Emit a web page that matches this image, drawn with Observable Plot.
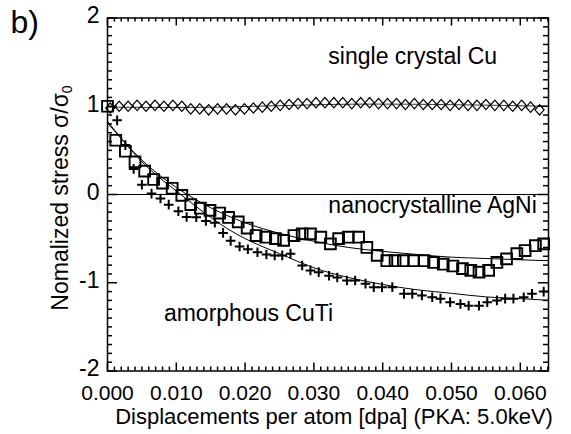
<!DOCTYPE html>
<html><head><meta charset="utf-8">
<script src="https://cdn.jsdelivr.net/npm/d3@7"></script>
<script src="https://cdn.jsdelivr.net/npm/@observablehq/plot@0.6"></script>
<style>
html,body{margin:0;padding:0;background:#fff;}
#chart{width:571px;height:434px;}
</style></head><body><div id="chart"></div>
<script>
// ---- data ----
const cuX = [0.0004,0.0017,0.0030,0.0043,0.0056,0.0069,0.0082,0.0095,0.0108,0.0121,0.0134,0.0147,0.0160,0.0173,0.0186,0.0199,0.0212,0.0225,0.0238,0.0251,0.0264,0.0277,0.0290,0.0303,0.0316,0.0329,0.0342,0.0355,0.0368,0.0381,0.0394,0.0407,0.0420,0.0433,0.0446,0.0459,0.0472,0.0485,0.0498,0.0511,0.0524,0.0537,0.0550,0.0563,0.0576,0.0589,0.0602,0.0615,0.0628];
const cuY = [0.98,1.00,1.00,1.01,1.00,1.01,1.00,1.01,1.00,0.97,0.97,0.96,0.97,0.97,0.96,0.97,0.98,0.99,1.00,1.01,1.02,1.03,1.03,1.04,1.04,1.04,1.04,1.03,1.04,1.04,1.03,1.03,1.03,1.02,1.03,1.02,1.02,1.02,1.01,1.02,1.01,1.01,1.02,1.01,1.01,1.00,1.01,0.99,0.96];

const agniX = [0.0000,0.0012,0.0026,0.0040,0.0054,0.0067,0.0080,0.0094,0.0108,0.0121,0.0135,0.0149,0.0163,0.0176,0.0190,0.0203,0.0216,0.0230,0.0244,0.0256,0.0271,0.0283,0.0295,0.0310,0.0324,0.0336,0.0350,0.0365,0.0377,0.0392,0.0406,0.0418,0.0430,0.0445,0.0460,0.0474,0.0488,0.0502,0.0516,0.0528,0.0540,0.0554,0.0566,0.0580,0.0595,0.0607,0.0622,0.0634];
const agniY = [1.00,0.615,0.49,0.37,0.265,0.17,0.13,0.07,-0.01,-0.115,-0.155,-0.18,-0.21,-0.26,-0.31,-0.38,-0.465,-0.484,-0.50,-0.52,-0.465,-0.446,-0.446,-0.484,-0.56,-0.50,-0.484,-0.484,-0.60,-0.69,-0.75,-0.75,-0.75,-0.75,-0.75,-0.77,-0.79,-0.81,-0.84,-0.86,-0.88,-0.86,-0.77,-0.73,-0.67,-0.635,-0.58,-0.56];

const cutiX = [0.0014,0.0026,0.0038,0.0050,0.0064,0.0077,0.0089,0.0103,0.0115,0.0129,0.0143,0.0156,0.0168,0.0179,0.0192,0.0204,0.0218,0.0231,0.0243,0.0254,0.0266,0.0283,0.0295,0.0307,0.0322,0.0334,0.0348,0.0360,0.0375,0.0387,0.0399,0.0414,0.0431,0.0443,0.0457,0.0472,0.0484,0.0498,0.0513,0.0525,0.0540,0.0552,0.0566,0.0578,0.0590,0.0605,0.0617,0.0634];
const cutiY = [0.84,0.56,0.29,0.11,0.01,-0.045,-0.115,-0.19,-0.255,-0.257,-0.30,-0.32,-0.435,-0.525,-0.59,-0.62,-0.654,-0.68,-0.69,-0.69,-0.67,-0.805,-0.86,-0.88,-0.92,-0.94,-0.975,-0.975,-1.01,-1.05,-1.05,-1.05,-1.126,-1.126,-1.145,-1.164,-1.18,-1.22,-1.24,-1.26,-1.26,-1.22,-1.20,-1.18,-1.18,-1.164,-1.126,-1.10];

// fitted curves
const cuFitX = [0,0.016,0.032,0.048,0.0641];
const cuFitY = [0.99,0.99,1.02,1.02,1.00];
const agniFitX = [0,0.005,0.010,0.015,0.020,0.025,0.030,0.035,0.040,0.045,0.050,0.055,0.060,0.0641];
const agniFitY = [0.81,0.39,0.08,-0.15,-0.32,-0.44,-0.53,-0.60,-0.645,-0.68,-0.71,-0.725,-0.74,-0.75];
const cutiFitX = [0,0.005,0.010,0.015,0.020,0.025,0.030,0.035,0.040,0.045,0.050,0.055,0.060,0.0641];
const cutiFitY = [0.83,0.37,0.04,-0.26,-0.50,-0.67,-0.83,-0.94,-1.02,-1.08,-1.12,-1.16,-1.18,-1.20];

// ticks
const xMin = 0, xMax = 0.0641, yMin = -2, yMax = 2;
const xMajor = [0,0.01,0.02,0.03,0.04,0.05,0.06];
const xMinor = d3.range(1, 65).map(d => d/1000).filter(d => d <= xMax && Math.round(d*1000) % 10 !== 0);
const yMajor = [-2,-1,0,1,2];
const yMinor = d3.range(-19, 20).map(d => d/10).filter(d => Math.round(d*10) % 10 !== 0);

const xLabel = "Displacements per atom [dpa] (PKA: 5.0keV)";
const panelLabel = "b)";

// ---- layout ----
const W = 571, H = 434, mL = 107, mR = 23, mT = 17.5, mB = 63.5;
const innerW = W - mL - mR, innerH = H - mT - mB;

// ---- symbols ----
const diamondSym = {draw(ctx, size){ const r = Math.sqrt(size/Math.PI); const w = r*0.88, h = r; ctx.moveTo(0,-h); ctx.lineTo(w,0); ctx.lineTo(0,h); ctx.lineTo(-w,0); ctx.closePath(); }};
const squareSym = {draw(ctx, size){ const r = Math.sqrt(size/Math.PI); ctx.rect(-r,-r,2*r,2*r); }};
const plusSym = {draw(ctx, size){ const r = Math.sqrt(size/Math.PI); ctx.moveTo(-r,0); ctx.lineTo(r,0); ctx.moveTo(0,-r); ctx.lineTo(0,r); }};

// inward tick marks drawn as inset rules
function ticks(values, side, len) {
  const o = {stroke: "black", strokeWidth: 1.5};
  if (side === "left")   return Plot.ruleY(values, {...o, y: d => d, insetRight: innerW - len});
  if (side === "right")  return Plot.ruleY(values, {...o, y: d => d, insetLeft: innerW - len});
  if (side === "bottom") return Plot.ruleX(values, {...o, x: d => d, insetTop: innerH - len});
  return Plot.ruleX(values, {...o, x: d => d, insetBottom: innerH - len});
}

const font = "'Liberation Sans', Arial, Helvetica, sans-serif";

const plot = Plot.plot({
  width: W, height: H,
  marginLeft: mL, marginRight: mR, marginTop: mT, marginBottom: mB,
  style: {fontFamily: font, fontSize: "23px", background: "white", color: "black", overflow: "visible"},
  x: {domain: [xMin, xMax]},
  y: {domain: [yMin, yMax]},
  marks: [
    Plot.ruleY([0], {stroke: "black", strokeWidth: 1}),
    Plot.line(cuFitX, {x: cuFitX, y: cuFitY, curve: "natural", stroke: "black", strokeWidth: 0.8}),
    Plot.line(agniFitX, {x: agniFitX, y: agniFitY, curve: "natural", stroke: "black", strokeWidth: 1}),
    Plot.line(cutiFitX, {x: cutiFitX, y: cutiFitY, curve: "natural", stroke: "black", strokeWidth: 1}),
    Plot.dot(cuX, {x: cuX, y: cuY, symbol: diamondSym, r: 5.2, stroke: "black", strokeWidth: 1.2, fill: "none"}),
    Plot.dot(agniX, {x: agniX, y: agniY, symbol: squareSym, r: 5.4, stroke: "black", strokeWidth: 1.9, fill: "none"}),
    Plot.dot(cutiX, {x: cutiX, y: cutiY, symbol: plusSym, r: 4.8, stroke: "black", strokeWidth: 2, fill: "none"}),
    // inward ticks
    ticks(yMajor, "left", 10), ticks(yMinor, "left", 5),
    ticks(yMajor, "right", 10), ticks(yMinor, "right", 5),
    ticks(xMajor, "bottom", 8), ticks(xMinor, "bottom", 4),
    ticks(xMajor, "top", 8), ticks(xMinor, "top", 4),
    Plot.frame({stroke: "black", strokeWidth: 1.5}),
    // tick labels
    Plot.axisY({anchor: "left", ticks: yMajor, tickSize: 0, tickPadding: 8, dy: -2, tickFormat: d => String(d), label: null}),
    Plot.axisX({anchor: "bottom", ticks: xMajor, tickSize: 0, tickPadding: 14, tickFormat: d3.format(".3f"), label: null, fontSize: 21}),
    // annotations
    Plot.text(["single crystal Cu"], {x: 0.0321, y: 1.48, text: d => d, textAnchor: "start", lineAnchor: "bottom"}),
    Plot.text(["nanocrystalline AgNi"], {x: 0.0321, y: -0.21, text: d => d, textAnchor: "start", lineAnchor: "bottom"}),
    Plot.text(["amorphous CuTi"], {x: 0.0082, y: -1.43, text: d => d, textAnchor: "start", lineAnchor: "bottom"}),
    Plot.text([xLabel], {frameAnchor: "bottom", text: d => d, dy: 53, dx: 6, fontSize: 22, lineAnchor: "bottom"}),
    Plot.text([panelLabel], {frameAnchor: "top-left", text: d => d, dx: -97, dy: 15, fontSize: 32, textAnchor: "start", lineAnchor: "bottom"})
  ]
});

// y-axis title with subscript
const svg = d3.select(plot);
const t = svg.append("text")
  .attr("transform", "translate(68,198) rotate(-90)")
  .attr("text-anchor", "middle")
  .attr("fill", "black")
  .style("font-family", font)
  .style("font-size", "23px");
t.append("tspan").text("Nomalized stress σ/σ");
t.append("tspan").attr("dy", "0.3em").style("font-size", "14px").text("0");

document.getElementById("chart").appendChild(plot);
</script>
</body></html>
